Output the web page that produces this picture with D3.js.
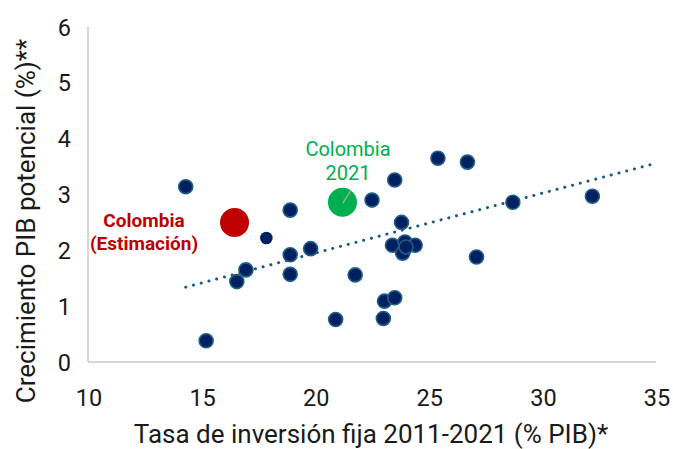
<!DOCTYPE html>
<html><head><meta charset="utf-8">
<script src="https://cdn.jsdelivr.net/npm/d3@7"></script>
<style>body{margin:0;background:#fff}svg{display:block;font-family:Roboto,"Noto Sans",sans-serif}</style>
</head><body><svg id="c" width="673" height="449"></svg>
<script>
const xTicks = [10, 15, 20, 25, 30, 35];
const yTicks = [0, 1, 2, 3, 4, 5, 6];
const countryX = [14.3, 15.2, 16.55, 16.95, 18.9, 18.9, 18.9, 19.8, 20.9, 21.76, 22.5, 23.05, 23.0, 23.5, 23.5, 23.4, 23.8, 23.85, 23.95, 24.4, 24.0, 25.4, 26.7, 27.1, 28.7, 32.2];
const countryY = [3.14, 0.38, 1.44, 1.65, 2.72, 1.92, 1.57, 2.03, 0.76, 1.56, 2.9, 1.09, 0.78, 3.26, 1.15, 2.09, 2.5, 1.95, 2.15, 2.09, 2.06, 3.65, 3.58, 1.88, 2.86, 2.97];
const smallX = [17.85], smallY = [2.22];
const colEstX = [16.45], colEstY = [2.5];
const col2021X = [21.2], col2021Y = [2.86];
const trendX = [14.3, 35], trendY = [1.34, 3.56];

const svg = d3.select("#c");
const x = d3.scaleLinear().domain([10, 35]).range([88, 656]);
const y = d3.scaleLinear().domain([0, 6]).range([362, 27]);

// axes lines
svg.append("line").attr("x1", x(10)).attr("x2", x(35)).attr("y1", y(0)).attr("y2", y(0)).attr("stroke", "#c8c8c8").attr("stroke-width", 1.5);
svg.append("line").attr("x1", x(10)).attr("x2", x(10)).attr("y1", y(0)).attr("y2", y(6)).attr("stroke", "#c8c8c8").attr("stroke-width", 1.5);

// tick labels
svg.append("g").selectAll("text").data(xTicks).join("text")
  .attr("x", d => x(d) + 1).attr("y", 406).attr("text-anchor", "middle")
  .attr("font-size", 23.5).attr("fill", "#1a1a1a").text(d => d);
svg.append("g").selectAll("text").data(yTicks).join("text")
  .attr("x", 71).attr("y", d => y(d) + 8.5).attr("text-anchor", "end")
  .attr("font-size", 23.5).attr("fill", "#1a1a1a").text(d => d);

// titles
svg.append("text").attr("x", 371).attr("y", 443).attr("text-anchor", "middle")
  .attr("font-size", 26).attr("fill", "#1a1a1a").text("Tasa de inversión fija 2011-2021 (% PIB)*");
svg.append("text").attr("transform", "translate(35,221) rotate(-90)").attr("text-anchor", "middle")
  .attr("font-size", 26).attr("fill", "#1a1a1a").text("Crecimiento PIB potencial (%)**");

// trend line
svg.append("path").datum(d3.zip(trendX, trendY))
  .attr("d", d3.line().x(d => x(d[0])).y(d => y(d[1])))
  .attr("fill", "none").attr("stroke", "#1b5a80").attr("stroke-width", 3)
  .attr("stroke-linecap", "round").attr("stroke-dasharray", "0.1 7.9");

// country points
svg.append("g").selectAll("circle").data(d3.zip(countryX, countryY)).join("circle")
  .attr("cx", d => x(d[0])).attr("cy", d => y(d[1])).attr("r", 7)
  .attr("fill", "#002060").attr("stroke", "#1f5f86").attr("stroke-width", 1.6);
svg.append("g").selectAll("circle").data(d3.zip(smallX, smallY)).join("circle")
  .attr("cx", d => x(d[0])).attr("cy", d => y(d[1])).attr("r", 6.3)
  .attr("fill", "#002060");

// Colombia estimate
svg.append("g").selectAll("circle").data(d3.zip(colEstX, colEstY)).join("circle")
  .attr("cx", d => x(d[0])).attr("cy", d => y(d[1])).attr("r", 14.5).attr("fill", "#c00000");
// Colombia 2021
svg.append("g").selectAll("circle").data(d3.zip(col2021X, col2021Y)).join("circle")
  .attr("cx", d => x(d[0])).attr("cy", d => y(d[1])).attr("r", 14.5).attr("fill", "#00b050");
svg.append("line").attr("x1", x(col2021X[0]) + 0.5).attr("y1", y(col2021Y[0]) + 0.5)
  .attr("x2", x(col2021X[0]) + 8.5).attr("y2", y(col2021Y[0]) - 12)
  .attr("stroke", "#a6a6a6").attr("stroke-width", 1.5);

// labels
const g1 = svg.append("text").attr("text-anchor", "middle").attr("font-size", 20).attr("fill", "#00b050");
g1.append("tspan").attr("x", 348).attr("y", 156).text("Colombia");
g1.append("tspan").attr("x", 348).attr("y", 179.5).text("2021");
const g2 = svg.append("text").attr("text-anchor", "middle").attr("font-size", 19).attr("font-weight", "bold").attr("fill", "#c00000");
g2.append("tspan").attr("x", 144).attr("y", 226.5).text("Colombia");
g2.append("tspan").attr("x", 144).attr("y", 250).text("(Estimación)");
</script></body></html>
